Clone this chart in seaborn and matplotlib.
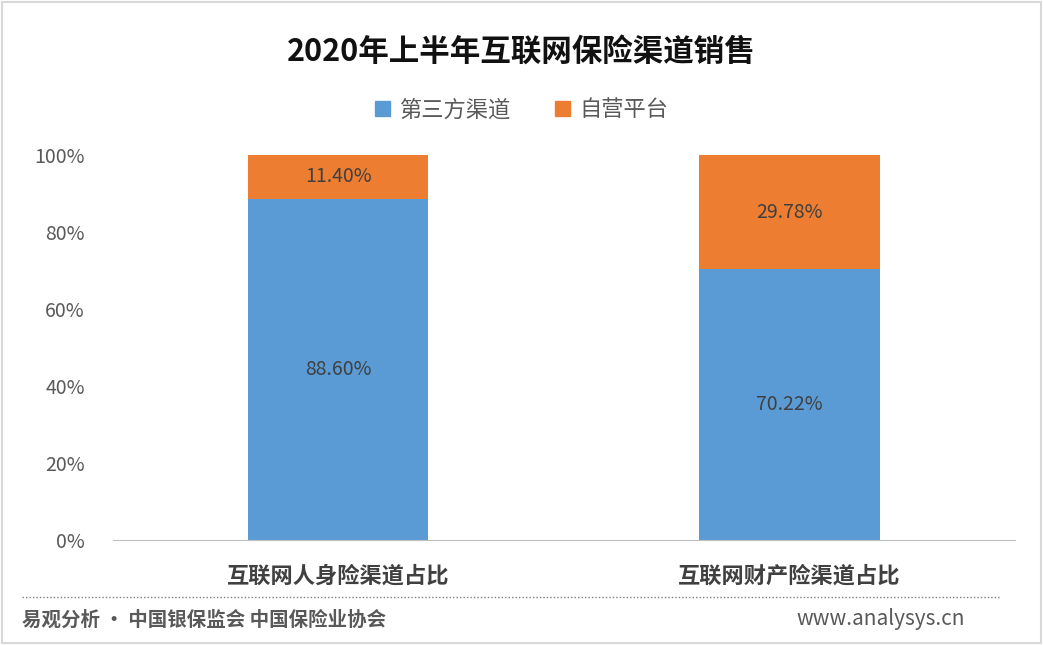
import numpy as np
import pandas as pd
import seaborn as sns
import matplotlib.pyplot as plt
from matplotlib.patches import Rectangle, Patch
from matplotlib.lines import Line2D

categories = ['互联网人身险渠道占比', '互联网财产险渠道占比']
third_party = [88.60, 70.22]
self_run = [11.40, 29.78]
series_names = ['第三方渠道', '自营平台']

sns.set_style('white')
plt.rcParams['font.family'] = ['Noto Sans CJK SC', 'DejaVu Sans']

blue = '#5B9BD5'
orange = '#ED7D31'

df = pd.DataFrame({'cat': categories, 'a': third_party, 'b': self_run})
df['total'] = df['a'] + df['b']

fig = plt.figure(figsize=(10.43, 6.45), dpi=100)
ax = fig.add_axes([0.108, 0.163, 0.865, 0.597])

sns.barplot(data=df, x='cat', y='total', color=orange, width=0.40, saturation=1,
            linewidth=0, ax=ax)
sns.barplot(data=df, x='cat', y='a', color=blue, width=0.40, saturation=1,
            linewidth=0, ax=ax)

for i, row in df.iterrows():
    ax.text(i, row['a'] / 2, f"{row['a']:.2f}%", ha='center', va='center', fontsize=14, color='#404040')
    ax.text(i, row['a'] + row['b'] / 2, f"{row['b']:.2f}%", ha='center', va='center', fontsize=14, color='#404040')

ax.set_xlim(-0.5, 1.5)
ax.set_ylim(0, 100)
ax.set_yticks(range(0, 101, 20))
ax.set_yticklabels([f'{v}%' for v in range(0, 101, 20)], fontsize=14, color='#595959')
ax.set_xticks([0, 1])
ax.set_xticklabels(categories, fontsize=16, color='#404040', fontweight='bold')
ax.tick_params(axis='x', length=0, pad=18)
ax.tick_params(axis='y', length=0, pad=20)
ax.set_xlabel('')
ax.set_ylabel('')
for s in ['left', 'right', 'top']:
    ax.spines[s].set_visible(False)
ax.spines['bottom'].set_color('#BFBFBF')
ax.grid(False)

fig.text(0.5, 0.920, '2020年上半年互联网保险渠道销售', ha='center', va='center',
         fontsize=22, fontweight='bold', color='#111111')

handles = [Patch(color=blue), Patch(color=orange)]
fig.legend(handles, series_names, loc='center', bbox_to_anchor=(0.5, 0.830), ncol=2,
           frameon=False, handlelength=0.7, handleheight=0.7,
           columnspacing=2.0, handletextpad=0.4, labelcolor='#595959',
           prop={'size': 16, 'weight': 'medium'})

fig.add_artist(Line2D([0.021, 0.958], [0.074, 0.074], transform=fig.transFigure,
                      color='#7F7F7F', linestyle=(0, (1, 1.5)), linewidth=1))
fig.text(0.021, 0.038, '易观分析 · 中国银保监会 中国保险业协会', ha='left', va='center',
         fontsize=14, fontweight='bold', color='#595959')
fig.text(0.925, 0.040, 'www.analysys.cn', ha='right', va='center',
         fontsize=15, color='#595959')

fig.add_artist(Rectangle((0.002, 0.003), 0.996, 0.994, transform=fig.transFigure,
                         fill=False, edgecolor='#D9D9D9', linewidth=1.5))

fig.savefig('out.png', dpi=100)
